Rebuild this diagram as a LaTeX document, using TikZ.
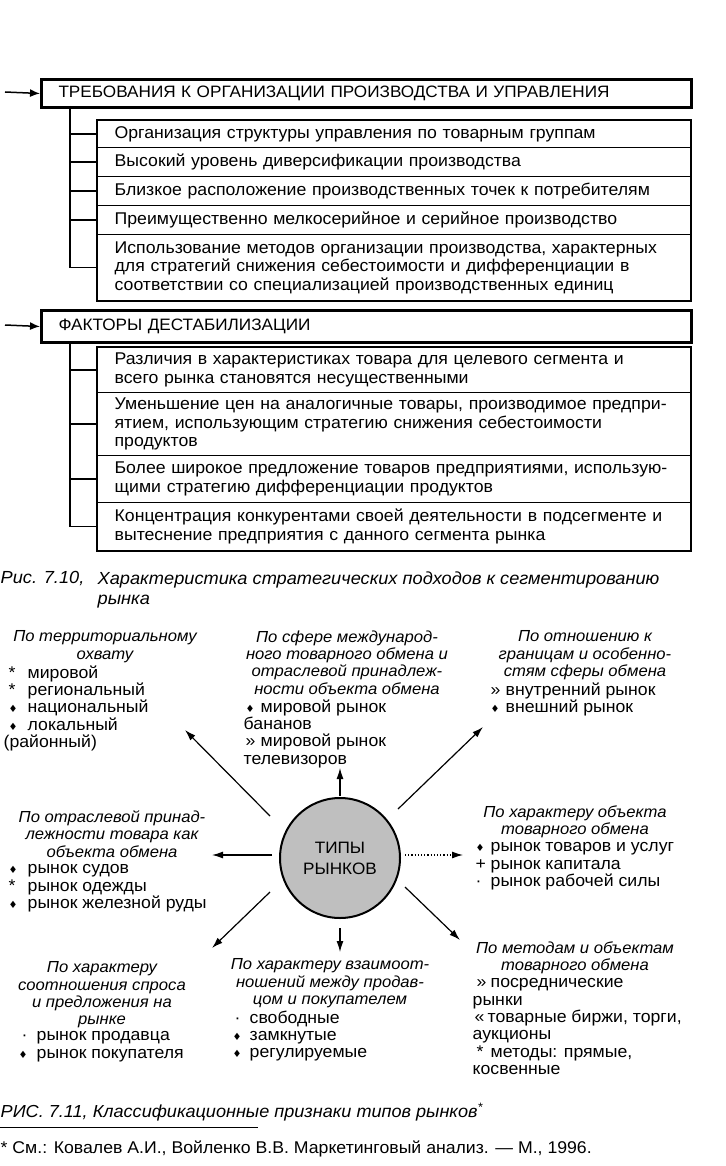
\documentclass[tikz,border=0pt]{standalone}
\usepackage{fontspec}
\setmainfont{Liberation Sans}[FakeStretch=1.04]
\newfontfamily\dejavu{DejaVu Sans}
\usetikzlibrary{arrows.meta}
\newcommand{\dm}{{\dejavu\fontsize{10}{10}\selectfont ♦}}
\newcommand{\itm}[2][15pt]{\makebox[#1][l]{#2}}
\begin{document}
\begin{tikzpicture}[x=1pt,y=-1pt,line width=1.4pt,
  hdr/.style={draw,line width=3pt,anchor=north west,text width=616pt,inner xsep=17pt,inner ysep=0pt,align=left,font=\fontsize{16.5}{18.5}\selectfont},
  row/.style={draw,line width=1.3pt,anchor=north west,text width=559pt,inner xsep=17pt,inner ysep=1pt,align=left,font=\fontsize{17}{18.5}\selectfont},
  title/.style={anchor=north,align=center,inner sep=0pt,font=\itshape\fontsize{16}{17.3}\selectfont,execute at begin node=\strut},
  list/.style={anchor=north west,align=left,inner sep=0pt,font=\fontsize{17}{17.3}\selectfont,execute at begin node=\strut},
  inarr/.style={-{Latex[length=10pt,width=8pt]},line width=1.5pt},
  arr/.style={-{Latex[length=11pt,width=7pt]},line width=1.2pt}]
\useasboundingbox (0,0) rectangle (725,1166);
\node[hdr,minimum height=28pt] (h1) at (40,78) {ТРЕБОВАНИЯ К ОРГАНИЗАЦИИ ПРОИЗВОДСТВА И УПРАВЛЕНИЯ};
\node[row,minimum height=27pt] (r1) at (97,120) {Организация структуры управления по товарным группам};
\node[row,minimum height=29pt] (r2) at (97,147) {Высокий уровень диверсификации производства};
\node[row,minimum height=29pt] (r3) at (97,176) {Близкое расположение производственных точек к потребителям};
\node[row,minimum height=29pt] (r4) at (97,205) {Преимущественно мелкосерийное и серийное производство};
\node[row,minimum height=66pt] (r5) at (97,234) {Использование методов организации производства, характерных\\для стратегий снижения себестоимости и дифференциации в\\соответствии со специализацией производственных единиц};
\draw[line width=2.2pt] (r1.north west) rectangle (r5.south east);
\coordinate (i1) at (5,92);
\draw[inarr] (i1) -- (h1.west);
\coordinate (t1) at (70,106);
\draw (t1) |- (r5.west);
\draw (r1.west) -- (r1.west -| t1);
\draw (r2.west) -- (r2.west -| t1);
\draw (r3.west) -- (r3.west -| t1);
\draw (r4.west) -- (r4.west -| t1);
\node[hdr,minimum height=32pt] (h2) at (40,309) {ФАКТОРЫ ДЕСТАБИЛИЗАЦИИ};
\node[row,minimum height=45pt] (f1) at (97,347) {Различия в характеристиках товара для целевого сегмента и\\всего рынка становятся несущественными};
\node[row,minimum height=63pt] (f2) at (97,392) {Уменьшение цен на аналогичные товары, производимое предпри-\\ятием, использующим стратегию снижения себестоимости\\продуктов};
\node[row,minimum height=47pt] (f3) at (97,455) {Более широкое предложение товаров предприятиями, использую-\\щими стратегию дифференциации продуктов};
\node[row,minimum height=48pt] (f4) at (97,502) {Концентрация конкурентами своей деятельности в подсегменте и\\вытеснение предприятия с данного сегмента рынка};
\draw[line width=2.2pt] (f1.north west) rectangle (f4.south east);
\coordinate (i2) at (5,325);
\draw[inarr] (i2) -- (h2.west);
\coordinate (t2) at (70,341);
\draw (t2) |- (f4.west);
\draw (f1.west) -- (f1.west -| t2);
\draw (f2.west) -- (f2.west -| t2);
\draw (f3.west) -- (f3.west -| t2);
\node[anchor=north west,inner sep=0pt,font=\itshape\fontsize{17.5}{20}\selectfont] (cap1n) at (0,571) {Рис. 7.10,};
\node[anchor=north west,inner sep=0pt,align=left,font=\itshape\fontsize{17.5}{20}\selectfont] (cap1) at (97,571) {Характеристика стратегических подходов к сегментированию\\рынка};
\node[title] (terT) at (105,630) {По территориальному\\охвату};
\node[list] (terL) at (3,665) {\itm[24pt]{\hspace{5pt}*}мировой\\\itm[24pt]{\hspace{5pt}*}региональный\\\itm[24pt]{\hspace{5pt}\dm}национальный\\\itm[24pt]{\hspace{5pt}\dm}локальный\\(районный)};
\node[title] (mezT) at (347,630) {По сфере международ-\\ного товарного обмена и\\отраслевой принадлеж-\\ности объекта обмена};
\node[list] (mezL) at (243,699) {\itm[17pt]{\hspace{2pt}\dm}мировой рынок\\бананов\\\itm[17pt]{\hspace{2pt}»}мировой рынок\\телевизоров};
\node[title] (graT) at (585,630) {По отношению к\\границам и особенно-\\стям сферы обмена};
\node[list] (graL) at (488,682) {\itm[17pt]{\hspace{2pt}»}внутренний рынок\\\itm[17pt]{\hspace{2pt}\dm}внешний рынок};
\node[title] (otrT) at (112,810) {По отраслевой принад-\\лежности товара как\\объекта обмена};
\node[list] (otrL) at (8,864) {\itm[19pt]{\dm}рынок судов\\\itm[19pt]{*}рынок одежды\\\itm[19pt]{\dm}рынок железной руды};
\node[title] (objT) at (575,805) {По характеру объекта\\товарного обмена};
\node[list] (objL) at (475,842) {\itm{\dm}рынок товаров и услуг\\\itm{+}рынок капитала\\\itm{·}рынок рабочей силы};
\node[title] (sprT) at (102,961) {По характеру\\соотношения спроса\\и предложения на\\рынке};
\node[list] (sprL) at (18,1031) {\itm[18pt]{\hspace{3pt}·}рынок продавца\\\itm[18pt]{\dm}рынок покупателя};
\node[title] (vzaT) at (330,958) {По характеру взаимоот-\\ношений между продав-\\цом и покупателем};
\node[list] (vzaL) at (232,1010) {\itm[17pt]{\hspace{2pt}·}свободные\\\itm[17pt]{\dm}замкнутые\\\itm[17pt]{\dm}регулируемые};
\node[title] (metT) at (575,941) {По методам и объектам\\товарного обмена};
\node[list] (metL) at (472,978) {\itm[18pt]{\hspace{4pt}»}посреднические\\рынки\\\itm[15pt]{\hspace{2pt}«}товарные биржи, торги,\\аукционы\\\itm[18pt]{\hspace{4pt}*}методы: прямые,\\косвенные};
\node[draw,circle,line width=2pt,fill=black!25,minimum size=120pt,inner sep=0pt,align=center,font=\fontsize{16.5}{21}\selectfont] (c) at (340,858) {ТИПЫ\\РЫНКОВ};
\coordinate (a1s) at (270,816);
\coordinate (a1e) at (185,730);
\coordinate (a2s) at (340,796);
\coordinate (a2e) at (340,768);
\coordinate (a3s) at (398,809);
\coordinate (a3e) at (483,727);
\coordinate (a4s) at (272,855);
\coordinate (a4e) at (212,855);
\coordinate (a5s) at (405,855);
\coordinate (a5e) at (463,855);
\coordinate (a6s) at (270,892);
\coordinate (a6e) at (212,948);
\coordinate (a7s) at (340,928);
\coordinate (a7e) at (340,952);
\coordinate (a8s) at (405,887);
\coordinate (a8e) at (460,940);
\draw[arr] (a1s) -- (a1e);
\draw[arr] (a2s) -- (a2e);
\draw[arr] (a3s) -- (a3e);
\draw[arr] (a4s) -- (a4e);
\draw[arr,dotted] (a5s) -- (a5e);
\draw[arr] (a6s) -- (a6e);
\draw[arr] (a7s) -- (a7e);
\draw[arr] (a8s) -- (a8e);
\node[anchor=north west,inner sep=0pt,font=\itshape\fontsize{17.4}{18}\selectfont] (cap2) at (0,1102) {РИС. 7.11, Классификационные признаки типов рынков\textsuperscript{*}};
\draw[line width=1pt] (0,1127) -- (258,1127);
\node[anchor=north west,inner sep=0pt,font=\fontsize{17}{18}\selectfont] (note) at (0,1140) {* См.: Ковалев А.И., Войленко В.В. Маркетинговый анализ. — М., 1996.};
\end{tikzpicture}
\end{document}
